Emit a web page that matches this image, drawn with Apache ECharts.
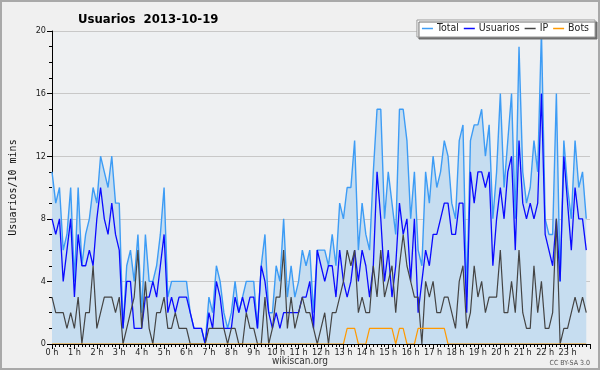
<!DOCTYPE html>
<html>
<head>
<meta charset="utf-8">
<script src="https://cdn.jsdelivr.net/npm/echarts@6/dist/echarts.min.js"></script>
<style>
html,body{margin:0;padding:0;background:#f0f0f0;}
#c{width:600px;height:370px;}
</style>
</head>
<body>
<div id="c"></div>
<script>
// 10-minute slots of 2013-10-19 (144 slots), hour tick labels
const hourLabels = ['0 h','1 h','2 h','3 h','4 h','5 h','6 h','7 h','8 h','9 h','10 h','11 h',
  '12 h','13 h','14 h','15 h','16 h','17 h','18 h','19 h','20 h','21 h','22 h','23 h'];
const yTicks = [0, 4, 8, 12, 16, 20];

const total = [
  11,9,10,6,7,10,   4,10,5,7,8,10,   9,12,11,10,12,9,   9,1,5,6,4,7,
  2,7,4,4,5,7,      10,3,4,4,4,4,    4,2,1,1,1,0,       3,2,5,4,2,1,
  2,4,2,3,4,4,      4,1,5,7,2,2,     5,4,8,3,5,3,       4,6,5,6,2,6,
  6,6,5,7,5,9,      8,10,10,13,6,9,  7,6,11,15,15,8,    11,9,7,15,15,13,
  8,11,6,5,11,9,    12,10,11,13,12,9, 8,13,14,3,13,14,  14,15,12,14,8,11,
  16,10,13,16,8,19, 11,9,10,13,11,20, 8,7,7,16,4,13,    10,8,13,10,11,8
];
const usuarios = [
  8,7,8,4,6,8,      3,7,5,5,6,5,     8,10,8,7,9,7,      6,1,4,4,1,1,
  1,3,3,4,3,5,      7,2,3,2,3,3,     3,2,1,1,1,0,       2,1,4,3,1,1,
  1,3,2,3,2,3,      3,1,5,4,2,1,     2,1,2,2,2,2,       2,3,3,4,1,6,
  5,4,5,5,3,6,      4,3,4,6,4,6,     5,3,5,11,8,4,      6,3,5,9,7,8,
  4,8,2,4,6,5,      7,7,8,9,9,7,     7,9,9,2,11,9,      11,11,10,11,5,8,
  10,8,11,12,6,13,  9,8,9,8,9,16,    7,6,5,8,4,12,      9,6,10,8,8,6
];
const ip = [
  3,2,2,2,1,2,      1,3,0,2,2,5,     1,2,3,3,3,2,       3,0,1,2,3,6,
  1,4,1,0,2,2,      3,1,1,2,1,1,     1,0,0,0,0,0,       1,1,1,1,1,0,
  1,1,0,0,2,1,      1,0,0,3,0,1,     3,3,6,1,3,1,       2,3,2,2,1,0,
  1,2,0,2,2,3,      4,6,5,6,2,3,     2,2,5,3,6,3,       4,5,2,5,7,5,
  4,3,3,0,4,3,      4,2,2,3,3,2,     1,4,5,1,2,5,       3,4,2,3,3,3,
  6,2,2,4,2,6,      2,1,1,5,2,4,     1,1,2,8,0,1,       1,2,3,2,3,2
];
const bots = [
  0,0,0,0,0,0, 0,0,0,0,0,0, 0,0,0,0,0,0, 0,0,0,0,0,0,
  0,0,0,0,0,0, 0,0,0,0,0,0, 0,0,0,0,0,0, 0,0,0,0,0,0,
  0,0,0,0,0,0, 0,0,0,0,0,0, 0,0,0,0,0,0, 0,0,0,0,0,0,
  0,0,0,0,0,0, 0,1,1,1,0,0, 0,1,1,1,1,1, 1,1,0,1,1,0,
  0,0,1,1,1,1, 1,1,1,1,0,0, 0,0,0,0,0,0, 0,0,0,0,0,0,
  0,0,0,0,0,0, 0,0,0,0,0,0, 0,0,0,0,0,0, 0,0,0,0,0,0
];

const FONT = '"DejaVu Sans Condensed","DejaVu Sans",sans-serif';
const pts = arr => arr.map((v, i) => [i, v]);

const chart = echarts.init(document.getElementById('c'), null, {renderer: 'canvas'});
chart.setOption({
  backgroundColor: '#f0f0f0',
  animation: false,
  title: {
    text: 'Usuarios  2013-10-19',
    left: 73, top: 8,
    textStyle: {fontFamily: FONT, fontSize: 13, fontWeight: 'bold', color: '#000'}
  },
  legend: {
    right: 5, top: 20,
    padding: [3, 6, 3, 5],
    icon: 'rect',
    itemWidth: 11, itemHeight: 1.5, itemGap: 5,
    backgroundColor: '#ffffff',
    borderColor: '#9a9a9a', borderWidth: 1,
    shadowColor: '#6e6e6e', shadowBlur: 0, shadowOffsetX: 2, shadowOffsetY: 2,
    textStyle: {fontFamily: FONT, fontSize: 10.5, color: '#222', padding: [0, 0, 0, -1]},
    data: ['Total', 'Usuarios', 'IP', 'Bots']
  },
  grid: {left: 46, right: 10, top: 31, bottom: 26, show: true, backgroundColor: '#eef0f2', borderWidth: 0},
  xAxis: [{
    type: 'value', min: 0, max: 144, interval: 1, z: 5,
    axisLine: {show: true, lineStyle: {color: '#000', width: 1}},
    axisTick: {show: true, length: 3, lineStyle: {color: '#000', width: 1}},
    splitLine: {show: false},
    axisLabel: {
      show: true, margin: 4, fontFamily: FONT, fontSize: 9, color: '#222',
      formatter: v => (v % 6 === 0 && v < 144) ? hourLabels[v / 6] : ''
    }
  }, {
    type: 'value', min: 0, max: 144, interval: 6, position: 'bottom', z: 5,
    axisLine: {show: false},
    axisTick: {show: true, length: 5, lineStyle: {color: '#000', width: 1}},
    axisLabel: {show: false}, splitLine: {show: false}
  }],
  yAxis: {
    type: 'value', min: 0, max: 20, interval: 4,
    name: 'Usuarios/10 mins', nameLocation: 'middle', nameRotate: 90, nameGap: 34,
    nameTextStyle: {fontFamily: '"DejaVu Sans Mono",monospace', fontSize: 10, color: '#111'},
    axisLine: {show: true, lineStyle: {color: '#000', width: 1}},
    axisTick: {show: true, length: 5, lineStyle: {color: '#000'}},
    minorTick: {show: true, splitNumber: 4, length: 3, lineStyle: {color: '#000'}},
    splitLine: {show: true, lineStyle: {color: '#c8c8c8', width: 1}},
    axisLabel: {margin: 6, fontFamily: FONT, fontSize: 9, color: '#222',
      formatter: v => yTicks.includes(v) ? String(v) : ''}
  },
  series: [
    {name: 'Total', type: 'line', data: pts(total), showSymbol: false, symbol: 'none',
     color: '#3d9cf5', lineStyle: {width: 1.4, color: '#3d9cf5'},
     areaStyle: {color: '#c6ddf0', opacity: 1}, z: 2},
    {name: 'Usuarios', type: 'line', data: pts(usuarios), showSymbol: false, symbol: 'none',
     color: '#0a0aff', lineStyle: {width: 1.3, color: '#0a0aff'}, z: 3},
    {name: 'IP', type: 'line', data: pts(ip), showSymbol: false, symbol: 'none',
     color: '#444444', lineStyle: {width: 1.2, color: '#444444'}, z: 3},
    {name: 'Bots', type: 'line', data: pts(bots), showSymbol: false, symbol: 'none',
     color: '#ff9900', lineStyle: {width: 1.2, color: '#ff9900'}, z: 3}
  ],
  graphic: [
    {type: 'text', left: 'center', top: 356,
     style: {text: 'wikiscan.org', fontFamily: FONT, fontSize: 10, fill: '#333'}},
    {type: 'text', right: 10, top: 360,
     style: {text: 'CC BY-SA 3.0', fontFamily: FONT, fontSize: 7, fill: '#555'}},
    {type: 'rect', z: 100, shape: {x: 1, y: 1, width: 598, height: 368},
     style: {fill: 'none', stroke: '#a9a9a9', lineWidth: 2}, silent: true}
  ]
});
</script>
</body>
</html>
